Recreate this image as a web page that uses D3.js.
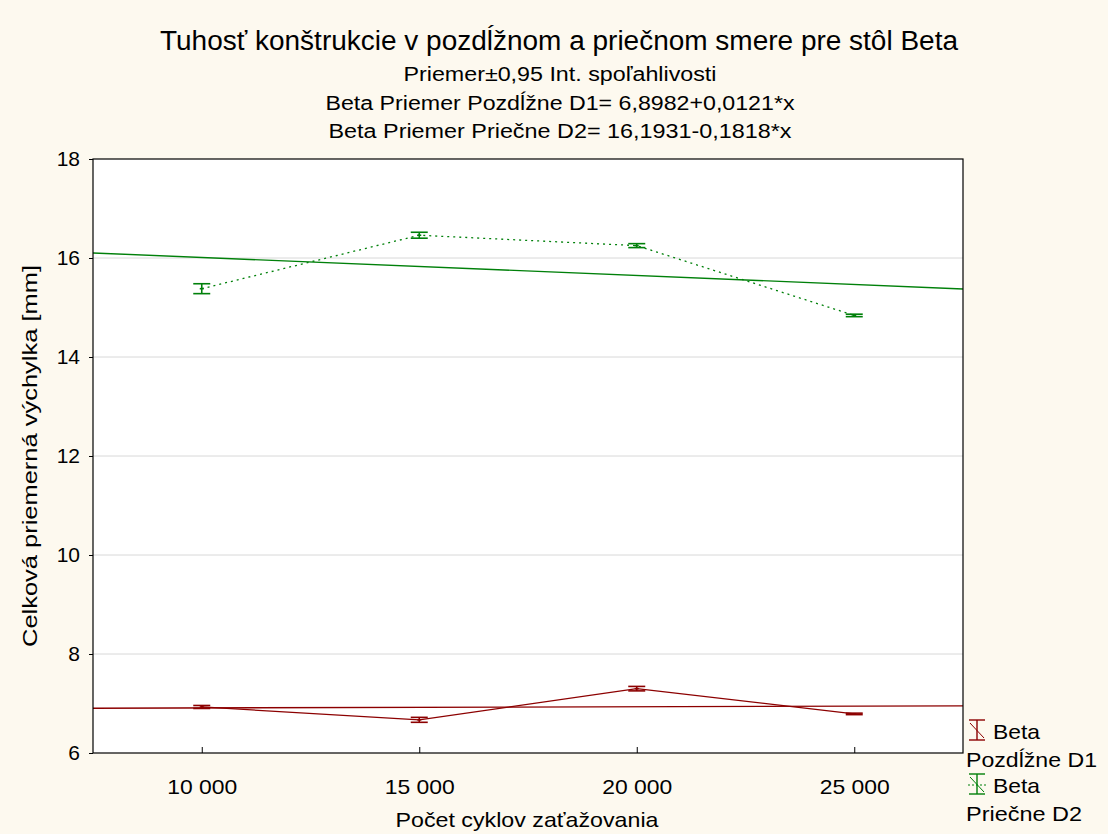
<!DOCTYPE html>
<html><head><meta charset="utf-8">
<script src="https://cdn.jsdelivr.net/npm/d3@7"></script>
<style>body{margin:0;background:#fdf9ef;} svg{display:block;font-family:"Liberation Sans",Arial,sans-serif;}</style>
</head><body>
<script>
const cycles = [10000, 15000, 20000, 25000];
const d1Mean = [6.93, 6.67, 7.30, 6.79];
const d1Half = [0.03, 0.05, 0.045, 0.015];
const d2Mean = [15.38, 16.46, 16.25, 14.84];
const d2Half = [0.1, 0.06, 0.04, 0.025];
const d1Fit = [6.8982, 0.0121];
const d2Fit = [16.1931, -0.1818];
const yTicks = [6, 8, 10, 12, 14, 16, 18];
const xTicks = [10000, 15000, 20000, 25000];
const titleText = "Tuhosť konštrukcie v pozdĺžnom a priečnom smere pre stôl Beta";
const titleLines = ["Priemer±0,95 Int. spoľahlivosti", "Beta Priemer Pozdĺžne D1= 6,8982+0,0121*x", "Beta Priemer Priečne D2= 16,1931-0,1818*x"];
const titleLens = [313, 469, 463];

const W = 1108, H = 834;
const m = {l: 93, r: 963, t: 159, b: 753};
const svg = d3.select("body").append("svg").attr("width", W).attr("height", H);
svg.append("rect").attr("width", W).attr("height", H).attr("fill", "#fdf9ef");

function txt(sel, x0, y0, s, size, len, anchor) {
  const t = sel.append("text").attr("x", x0).attr("y", y0).attr("font-size", size)
    .attr("text-anchor", anchor || "start").attr("fill", "#000").text(s);
  if (len) t.attr("textLength", len).attr("lengthAdjust", "spacingAndGlyphs");
  return t;
}

const x = d3.scaleLinear().domain([7500, 27500]).range([m.l, m.r]);
const y = d3.scaleLinear().domain([6, 18]).range([m.b, m.t]);
// regression index: 10000 -> 1, 15000 -> 2, ...
const idx = c => (c - 5000) / 5000;

svg.append("rect").attr("x", m.l).attr("y", m.t).attr("width", m.r - m.l).attr("height", m.b - m.t).attr("fill", "#fff");

svg.append("g").selectAll("line").data(yTicks.slice(1, -1)).join("line")
  .attr("x1", m.l).attr("x2", m.r).attr("y1", d => y(d)).attr("y2", d => y(d))
  .attr("stroke", "#d8d8d8").attr("stroke-width", 1);

const fmt = d => d3.format(",")(d).replace(/,/g, " ");
const xAxis = svg.append("g").attr("transform", `translate(0,${m.b})`)
  .call(d3.axisBottom(x).tickValues(xTicks).tickFormat(fmt).tickSizeInner(-6).tickSizeOuter(0).tickPadding(26));
xAxis.select(".domain").remove();
xAxis.selectAll("text").attr("font-size", 21).attr("fill", "#000").attr("font-family", "Liberation Sans, Arial")
  .attr("textLength", 70).attr("lengthAdjust", "spacingAndGlyphs");
xAxis.selectAll("line").attr("stroke", "#000");
const yAxis = svg.append("g").attr("transform", `translate(${m.l},0)`)
  .call(d3.axisLeft(y).tickValues(yTicks).tickSizeInner(4).tickSizeOuter(0).tickPadding(9));
yAxis.select(".domain").remove();
yAxis.selectAll("text").attr("font-size", 21).attr("fill", "#000").attr("font-family", "Liberation Sans, Arial");
yAxis.selectAll("line").attr("stroke", "#000");

svg.append("clipPath").attr("id", "c").append("rect")
  .attr("x", m.l).attr("y", m.t).attr("width", m.r - m.l).attr("height", m.b - m.t);
const plot = svg.append("g").attr("clip-path", "url(#c)");

function series(means, half, fit, color, dash) {
  const lineGen = d3.line().x((d, i) => x(cycles[i])).y(d => y(d));
  plot.append("path").attr("d", lineGen(means)).attr("fill", "none").attr("stroke", color)
    .attr("stroke-width", 1.3).attr("stroke-dasharray", dash);
  const xs = x.domain();
  plot.append("line").attr("x1", x(xs[0])).attr("x2", x(xs[1]))
    .attr("y1", y(fit[0] + fit[1] * idx(xs[0]))).attr("y2", y(fit[0] + fit[1] * idx(xs[1])))
    .attr("stroke", color).attr("stroke-width", 1.4);
  const g = plot.append("g").attr("stroke", color).attr("stroke-width", 1.6);
  means.forEach((mv, i) => {
    const cx = x(cycles[i]);
    g.append("line").attr("x1", cx).attr("x2", cx).attr("y1", y(mv - half[i])).attr("y2", y(mv + half[i]));
    [mv - half[i], mv + half[i]].forEach(v => g.append("line").attr("x1", cx - 8.5).attr("x2", cx + 8.5).attr("y1", y(v)).attr("y2", y(v)));
    g.append("line").attr("x1", cx - 2).attr("x2", cx + 2).attr("y1", y(mv)).attr("y2", y(mv));
  });
}
series(d2Mean, d2Half, d2Fit, "#00800a", "2,4");
series(d1Mean, d1Half, d1Fit, "#8c0000", null);

svg.append("rect").attr("x", m.l).attr("y", m.t).attr("width", m.r - m.l).attr("height", m.b - m.t)
  .attr("fill", "none").attr("stroke", "#000").attr("stroke-width", 1.2);

// titles
txt(svg, 559, 50, titleText, 27, 798, "middle");
titleLines.forEach((t, i) => txt(svg, 560, 81 + i * 28.5, t, 20, titleLens[i], "middle"));

const yl = txt(svg, 0, 0, "Celková priemerná výchylka [mm]", 21, 382, "middle");
yl.attr("transform", `translate(37,${(m.t + m.b) / 2}) rotate(-90)`);
txt(svg, 527, 827, "Počet cyklov zaťažovania", 21, 263, "middle");

// legend
const legend = [
  {color: "#8c0000", dash: null, l1: "Beta", l2: "Pozdĺžne D1", y: 731, len2: 131},
  {color: "#00800a", dash: "2,2", l1: "Beta", l2: "Priečne D2", y: 785, len2: 116}
];
legend.forEach(d => {
  const g = svg.append("g").attr("stroke", d.color).attr("stroke-width", 1.4);
  const cx = 977;
  g.append("line").attr("x1", cx - 8).attr("x2", cx + 8).attr("y1", d.y - 11).attr("y2", d.y - 11);
  g.append("line").attr("x1", cx - 8).attr("x2", cx + 8).attr("y1", d.y + 9).attr("y2", d.y + 9);
  g.append("line").attr("x1", cx).attr("x2", cx).attr("y1", d.y - 11).attr("y2", d.y + 9);
  g.append("line").attr("x1", cx - 7).attr("x2", cx + 7).attr("y1", d.y - 8).attr("y2", d.y + 7).attr("stroke-width", 1);
  if (d.dash) g.append("line").attr("x1", cx - 9).attr("x2", cx + 9).attr("y1", d.y).attr("y2", d.y).attr("stroke-dasharray", d.dash).attr("stroke-width", 1);
  txt(svg, 993, d.y + 8, d.l1, 21, 47);
  txt(svg, 966, d.y + 36, d.l2, 21, d.len2);
});
</script>
</body></html>
